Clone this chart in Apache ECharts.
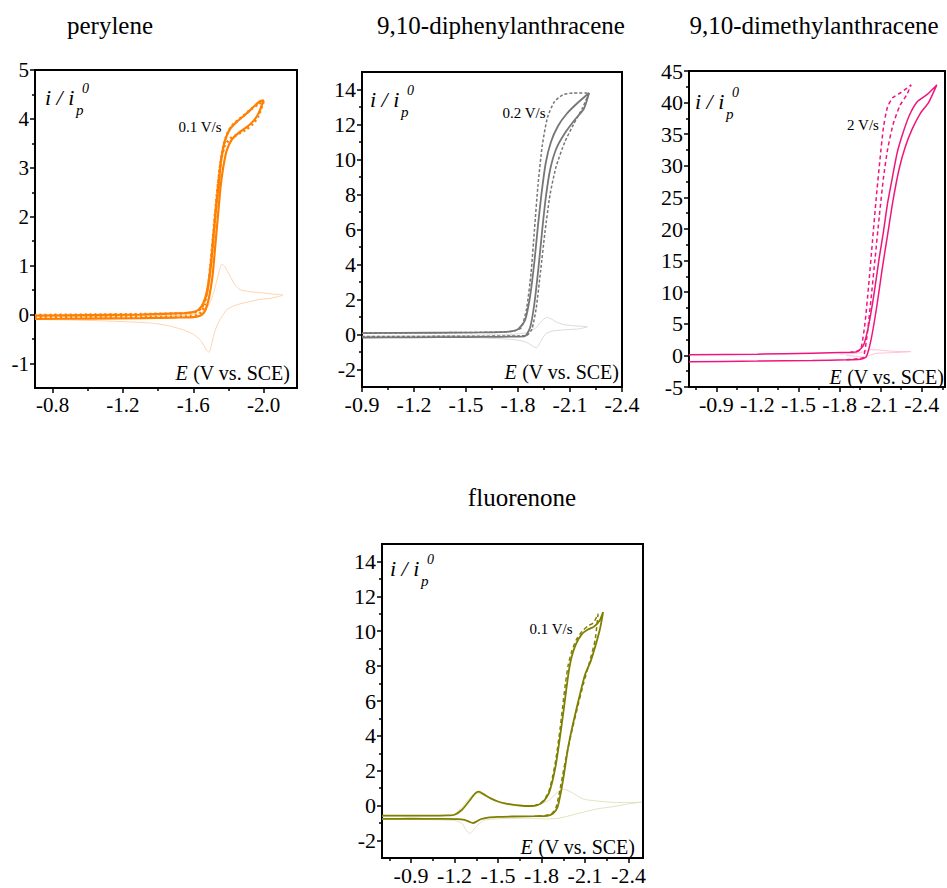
<!DOCTYPE html>
<html><head><meta charset="utf-8">
<script src="https://cdn.jsdelivr.net/npm/echarts@6/dist/echarts.min.js"></script>
<style>html,body{margin:0;padding:0;background:#fff}#c{width:947px;height:888px}</style>
</head><body><div id="c"></div>
<script>
// ---------- titles ----------
const titles = ['perylene', '9,10-diphenylanthracene', '9,10-dimethylanthracene', 'fluorenone'];
const speedLabels = ['0.1 V/s', '0.2 V/s', '2 V/s', '0.1 V/s'];

// ---------- tick values ----------
const peryXMajor = [-0.8, -1.2, -1.6, -2.0];
const peryXMinor = [-1.0, -1.4, -1.8];
const peryYMajor = [-1, 0, 1, 2, 3, 4, 5];
const peryYMinor = [-0.5, 0.5, 1.5, 2.5, 3.5, 4.5];

const dpaXMajor = [-0.9, -1.2, -1.5, -1.8, -2.1, -2.4];
const dpaXMinor = [-1.05, -1.35, -1.65, -1.95, -2.25];
const dpaYMajor = [-2, 0, 2, 4, 6, 8, 10, 12, 14];
const dpaYMinor = [-1, 1, 3, 5, 7, 9, 11, 13];

const dmaXMajor = [-0.9, -1.2, -1.5, -1.8, -2.1, -2.4];
const dmaXMinor = [-0.75, -1.05, -1.35, -1.65, -1.95, -2.25, -2.55];
const dmaYMajor = [-5, 0, 5, 10, 15, 20, 25, 30, 35, 40, 45];
const dmaYMinor = [-2.5, 2.5, 7.5, 12.5, 17.5, 22.5, 27.5, 32.5, 37.5, 42.5];

const flrXMajor = [-0.9, -1.2, -1.5, -1.8, -2.1, -2.4];
const flrXMinor = [-0.75, -1.05, -1.35, -1.65, -1.95, -2.25];
const flrYMajor = [-2, 0, 2, 4, 6, 8, 10, 12, 14];
const flrYMinor = [-1, 1, 3, 5, 7, 9, 11, 13];

// ---------- data: [E (V vs SCE), i/ip0] ----------
const peryCV = [[-0.70,-0.09],[-1.00,-0.08],[-1.30,-0.07],[-1.50,-0.06],[-1.58,-0.055],[-1.62,-0.04],[-1.65,0.0],[-1.67,0.1],[-1.69,0.35],[-1.71,0.8],[-1.725,1.4],[-1.74,2.0],[-1.755,2.6],[-1.77,3.0],[-1.79,3.35],[-1.82,3.58],[-1.86,3.72],[-1.90,3.82],[-1.94,3.95],[-1.97,4.1],[-2.00,4.38],
  [-1.98,4.36],[-1.95,4.27],[-1.90,4.1],[-1.85,3.95],[-1.81,3.8],[-1.78,3.55],[-1.76,3.2],[-1.745,2.7],[-1.73,2.2],[-1.715,1.6],[-1.70,1.0],[-1.68,0.5],[-1.655,0.22],[-1.63,0.1],[-1.60,0.05],[-1.55,0.03],[-1.30,0.0],[-1.00,-0.01],[-0.70,-0.02]];
const perySim = [[-0.70,-0.06],[-1.00,-0.055],[-1.30,-0.05],[-1.50,-0.045],[-1.58,-0.035],[-1.62,-0.01],[-1.645,0.05],[-1.665,0.2],[-1.685,0.6],[-1.70,1.1],[-1.715,1.7],[-1.73,2.3],[-1.745,2.8],[-1.76,3.2],[-1.78,3.45],[-1.81,3.6],[-1.85,3.68],[-1.90,3.78],[-1.94,3.9],[-1.97,4.05],[-2.00,4.36],
  [-1.97,4.3],[-1.93,4.2],[-1.88,4.05],[-1.83,3.9],[-1.80,3.75],[-1.775,3.5],[-1.755,3.1],[-1.74,2.6],[-1.725,2.0],[-1.71,1.4],[-1.695,0.85],[-1.675,0.4],[-1.65,0.15],[-1.62,0.06],[-1.58,0.03],[-1.30,0.01],[-1.00,0.0],[-0.70,-0.01]];
const peryBlank = [[-0.70,-0.05],[-1.00,-0.04],[-1.30,-0.03],[-1.50,-0.02],[-1.60,0.0],[-1.65,0.05],[-1.69,0.2],[-1.72,0.5],[-1.745,0.85],[-1.762,1.03],[-1.78,0.98],[-1.81,0.78],[-1.84,0.6],[-1.867,0.51],[-1.92,0.47],[-1.98,0.45],[-2.05,0.42],[-2.11,0.40],
  [-2.05,0.34],[-1.98,0.31],[-1.90,0.25],[-1.83,0.18],[-1.79,0.1],[-1.77,0.0],[-1.752,-0.1],[-1.73,-0.27],[-1.714,-0.45],[-1.70,-0.68],[-1.69,-0.77],[-1.675,-0.72],[-1.655,-0.6],[-1.638,-0.51],[-1.60,-0.4],[-1.543,-0.31],[-1.45,-0.22],[-1.353,-0.17],[-1.10,-0.13],[-0.90,-0.11],[-0.70,-0.10]];

const dpaCV = [[-0.9,-0.17],[-1.2,-0.16],[-1.5,-0.15],[-1.7,-0.13],[-1.8,-0.12],[-1.84,-0.1],[-1.87,0.4],[-1.895,1.8],[-1.92,4.0],[-1.94,6.0],[-1.96,7.8],[-1.985,9.4],[-2.02,10.6],[-2.07,11.5],[-2.13,12.3],[-2.18,12.9],[-2.21,13.8],
  [-2.14,13.2],[-2.08,12.6],[-2.03,11.9],[-1.99,11.0],[-1.96,9.8],[-1.935,8.0],[-1.915,6.2],[-1.895,4.2],[-1.87,2.2],[-1.84,0.8],[-1.80,0.3],[-1.75,0.17],[-1.6,0.12],[-1.3,0.1],[-0.9,0.08]];
const dpaSim = [[-0.9,-0.12],[-1.5,-0.1],[-1.8,-0.08],[-1.85,-0.05],[-1.88,0.3],[-1.905,1.5],[-1.93,3.6],[-1.955,5.8],[-1.985,8.0],[-2.02,9.6],[-2.07,11.0],[-2.12,12.0],[-2.17,12.9],[-2.21,13.8],
  [-2.12,13.8],[-2.06,13.7],[-2.01,13.3],[-1.97,12.4],[-1.94,10.8],[-1.915,8.5],[-1.895,6.0],[-1.875,3.5],[-1.85,1.5],[-1.82,0.4],[-1.78,0.2],[-1.7,0.14],[-1.3,0.1],[-0.9,0.08]];
const dpaBlank = [[-0.9,-0.1],[-1.5,-0.05],[-1.75,0.0],[-1.85,0.1],[-1.9,0.35],[-1.93,0.7],[-1.965,0.98],[-1.99,0.9],[-2.02,0.72],[-2.06,0.58],[-2.12,0.5],[-2.2,0.44],
  [-2.15,0.32],[-2.089,0.28],[-2.0,0.2],[-1.96,0.05],[-1.94,-0.25],[-1.92,-0.6],[-1.907,-0.76],[-1.89,-0.7],[-1.86,-0.5],[-1.82,-0.36],[-1.763,-0.28],[-1.65,-0.22],[-1.574,-0.19],[-1.3,-0.16],[-0.9,-0.15]];

const dmaCV = [[-0.7,-1.0],[-1.2,-0.9],[-1.6,-0.8],[-1.85,-0.7],[-1.95,-0.6],[-1.995,-0.2],[-2.03,2.5],[-2.07,7.5],[-2.11,13.5],[-2.15,19.0],[-2.19,24.5],[-2.235,29.5],[-2.28,33.0],[-2.33,35.8],[-2.39,38.3],[-2.45,40.0],[-2.51,42.8],
  [-2.44,41.3],[-2.37,40.2],[-2.31,38.0],[-2.26,35.0],[-2.22,32.0],[-2.18,27.5],[-2.15,24.0],[-2.12,19.5],[-2.09,15.5],[-2.05,9.5],[-2.01,4.5],[-1.975,1.6],[-1.93,0.6],[-1.88,0.5],[-1.6,0.35],[-1.2,0.2],[-0.7,0.1]];
const dmaSim = [[-1.85,-0.7],[-1.95,-0.5],[-1.975,-0.3],[-2.0,3.0],[-2.03,9.0],[-2.06,15.5],[-2.09,22.0],[-2.12,28.0],[-2.15,32.5],[-2.19,36.5],[-2.24,39.5],[-2.29,41.2],[-2.322,42.8],
  [-2.25,41.6],[-2.19,40.8],[-2.15,39.3],[-2.12,36.0],[-2.095,31.0],[-2.068,25.0],[-2.04,18.0],[-2.012,11.0],[-1.985,5.0],[-1.955,1.0],[-1.92,0.6],[-1.88,0.5]];
const dmaBlank = [[-1.8,0.2],[-1.93,0.35],[-1.98,0.6],[-2.03,0.9],[-2.09,0.85],[-2.16,0.7],[-2.25,0.62],[-2.32,0.6],
  [-2.25,0.5],[-2.15,0.4],[-2.06,0.3],[-2.02,0.0],[-1.99,-0.3],[-1.95,-0.2],[-1.85,0.0]];

const flrCV = [[-0.7,-0.57],[-1.0,-0.57],[-1.15,-0.56],[-1.2,-0.52],[-1.25,-0.25],[-1.3,0.25],[-1.34,0.68],[-1.368,0.8],[-1.4,0.66],[-1.45,0.42],[-1.5,0.24],[-1.55,0.13],[-1.6,0.06],[-1.65,0.01],[-1.7,-0.02],[-1.75,-0.01],[-1.79,0.1],[-1.82,0.3],[-1.85,0.7],[-1.875,1.4],[-1.9,2.4],[-1.925,3.8],[-1.95,5.3],[-1.97,6.6],[-1.99,7.8],[-2.01,8.6],[-2.04,9.3],[-2.08,9.85],[-2.12,10.1],[-2.16,10.25],[-2.2,10.6],[-2.225,11.1],
  [-2.205,10.2],[-2.18,9.4],[-2.14,8.3],[-2.1,7.5],[-2.06,6.2],[-2.02,4.8],[-1.985,3.4],[-1.955,1.8],[-1.93,0.6],[-1.91,-0.1],[-1.88,-0.45],[-1.84,-0.58],[-1.75,-0.6],[-1.6,-0.62],[-1.5,-0.64],[-1.43,-0.68],[-1.38,-0.78],[-1.35,-0.92],[-1.327,-1.0],[-1.3,-0.92],[-1.27,-0.82],[-1.22,-0.77],[-1.1,-0.76],[-0.9,-0.75],[-0.7,-0.76]];
const flrSim = [[-1.75,0.0],[-1.79,0.12],[-1.82,0.35],[-1.85,0.8],[-1.875,1.6],[-1.9,2.7],[-1.925,4.2],[-1.945,5.6],[-1.965,7.0],[-1.985,8.1],[-2.01,8.9],[-2.04,9.5],[-2.08,10.0],[-2.12,10.3],[-2.16,10.5],[-2.19,11.0],
  [-2.17,9.5],[-2.13,8.2],[-2.09,7.0],[-2.05,5.7],[-2.01,4.3],[-1.975,3.0],[-1.945,1.7],[-1.92,0.6],[-1.9,-0.1],[-1.87,-0.45],[-1.82,-0.58],[-1.75,-0.6]];
const flrBlank = [[-0.7,-0.6],[-1.1,-0.6],[-1.2,-0.5],[-1.25,-0.1],[-1.3,0.4],[-1.35,0.75],[-1.4,0.6],[-1.5,0.2],[-1.6,0.0],[-1.75,0.0],[-1.85,0.3],[-1.9,0.7],[-1.95,0.95],[-2.0,0.8],[-2.088,0.38],[-2.2,0.25],[-2.296,0.19],[-2.4,0.18],[-2.49,0.2],
  [-2.4,0.1],[-2.3,-0.05],[-2.181,-0.19],[-2.1,-0.35],[-1.996,-0.57],[-1.92,-0.72],[-1.835,-0.76],[-1.7,-0.72],[-1.5,-0.75],[-1.4,-0.85],[-1.35,-1.2],[-1.304,-1.6],[-1.28,-1.4],[-1.25,-1.0],[-1.2,-0.85],[-1.0,-0.8],[-0.7,-0.78]];

// ---------- layout ----------
const FONT = "'Liberation Serif','Times New Roman',serif";
const panels = [
  {grid:{left:35, top:70, width:262, height:318}, x:[-2.19,-0.7], y:[-1.5,5], fs:21,
   xMaj:peryXMajor, xMin:peryXMinor, yMaj:peryYMajor, yMin:peryYMinor, xDec:1,
   cv:peryCV, sim:perySim, blank:peryBlank, color:'#FF7F00', blankColor:'#FFD3AE', cvW:2.2, simType:[2,3], simW:2.6,
   title:[110,25], speed:[200,127], ylab:[45,97], elab:[290,373]},
  {grid:{left:362, top:72, width:260, height:315}, x:[-2.4,-0.9], y:[-3,15], fs:22,
   xMaj:dpaXMajor, xMin:dpaXMinor, yMaj:dpaYMajor, yMin:dpaYMinor, xDec:1,
   cv:dpaCV, sim:dpaSim, blank:dpaBlank, color:'#767676', blankColor:'#DADADA', cvW:1.8, simType:[3,2], simW:1.5,
   title:[501,25], speed:[524,113], ylab:[370,99], elab:[619,372]},
  {grid:{left:689, top:71, width:256, height:316}, x:[-2.57,-0.7], y:[-5,45], fs:22,
   xMaj:dmaXMajor, xMin:dmaXMinor, yMaj:dmaYMajor, yMin:dmaYMinor, xDec:1,
   cv:dmaCV, sim:dmaSim, blank:dmaBlank, color:'#F0157D', blankColor:'#FFC0DA', cvW:1.5, simType:[4,3], simW:1.5,
   title:[814,25], speed:[863,125], ylab:[695,101], elab:[944,377]},
  {grid:{left:382, top:544, width:261, height:314}, x:[-2.5,-0.7], y:[-3,15], fs:22,
   xMaj:flrXMajor, xMin:flrXMinor, yMaj:flrYMajor, yMin:flrYMinor, xDec:1,
   cv:flrCV, sim:flrSim, blank:flrBlank, color:'#7F7F00', blankColor:'#E2E2C0', cvW:1.8, simType:[4,3], simW:1.5,
   title:[522,497], speed:[551,629], ylab:[390,568], elab:[635,847]}
];

const grid = [], xAxis = [], yAxis = [], series = [], graphic = [];
function txt(x, y, text, size, style) {
  return {type:'text', x:x, y:y, silent:true, z:100,
    style:Object.assign({text:text, fontFamily:FONT, fontSize:size, fill:'#000',
      align:'left', verticalAlign:'middle', textAlign:'left', textVerticalAlign:'middle'}, style || {})};
}
panels.forEach((p, k) => {
  grid.push(Object.assign({show:true, borderColor:'#000', borderWidth:2, backgroundColor:'transparent', containLabel:false, outerBoundsMode:'none'}, p.grid));
  const base = {gridIndex:k, type:'value', splitLine:{show:false}, axisLine:{show:false, onZero:false}};
  xAxis.push(Object.assign({}, base, {position:'bottom', inverse:true, min:p.x[0], max:p.x[1],
    axisTick:{show:true, customValues:p.xMaj, length:5, lineStyle:{color:'#000', width:1.5}},
    axisLabel:{customValues:p.xMaj, formatter:v => Number(v).toFixed(p.xDec), fontFamily:FONT, fontSize:p.fs, color:'#000', margin:6}}));
  xAxis.push(Object.assign({}, base, {position:'bottom', inverse:true, min:p.x[0], max:p.x[1],
    axisTick:{show:true, customValues:p.xMin, length:3, lineStyle:{color:'#000', width:1.5}},
    axisLabel:{show:false}}));
  yAxis.push(Object.assign({}, base, {position:'left', min:p.y[0], max:p.y[1],
    axisTick:{show:true, customValues:p.yMaj, length:5, lineStyle:{color:'#000', width:1.5}},
    axisLabel:{customValues:p.yMaj, formatter:v => String(Math.round(v)), fontFamily:FONT, fontSize:p.fs, color:'#000', margin:6}}));
  yAxis.push(Object.assign({}, base, {position:'left', min:p.y[0], max:p.y[1],
    axisTick:{show:true, customValues:p.yMin, length:3, lineStyle:{color:'#000', width:1.5}},
    axisLabel:{show:false}}));
  const common = {type:'line', xAxisIndex:2*k, yAxisIndex:2*k, showSymbol:false, symbol:'none', smooth:0.2, silent:true, animation:false};
  series.push(Object.assign({}, common, {name:'blank'+k, data:p.blank, z:2, lineStyle:{color:p.blankColor, width:1}}));
  series.push(Object.assign({}, common, {name:'cv'+k, data:p.cv, z:3, lineStyle:{color:p.color, width:p.cvW}}));
  series.push(Object.assign({}, common, {name:'sim'+k, data:p.sim, z:4, lineStyle:{color:p.color, width:p.simW, type:p.simType}}));

  graphic.push(txt(p.title[0], p.title[1], titles[k], 25, {align:'center', textAlign:'center'}));
  graphic.push(txt(p.speed[0], p.speed[1], speedLabels[k], 15, {align:'center', textAlign:'center'}));
  graphic.push(txt(p.ylab[0], p.ylab[1], 'i / i', 22, {fontStyle:'italic'}));
  graphic.push(txt(p.ylab[0]+31, p.ylab[1]+13, 'p', 15, {fontStyle:'italic'}));
  graphic.push(txt(p.ylab[0]+37, p.ylab[1]-9, '0', 14, {fontStyle:'italic'}));
  graphic.push({type:'text', x:p.elab[0], y:p.elab[1], silent:true, z:100,
    style:{text:'{e|E} (V vs. SCE)', fontFamily:FONT, fontSize:20, fill:'#000', align:'right', verticalAlign:'middle', textAlign:'right', textVerticalAlign:'middle',
      rich:{e:{fontFamily:FONT, fontSize:20, fontStyle:'italic', fill:'#000'}}}});
});

const chart = echarts.init(document.getElementById('c'), null, {renderer:'svg'});
chart.setOption({animation:false, backgroundColor:'#fff', grid, xAxis, yAxis, series, graphic});
</script></body></html>
